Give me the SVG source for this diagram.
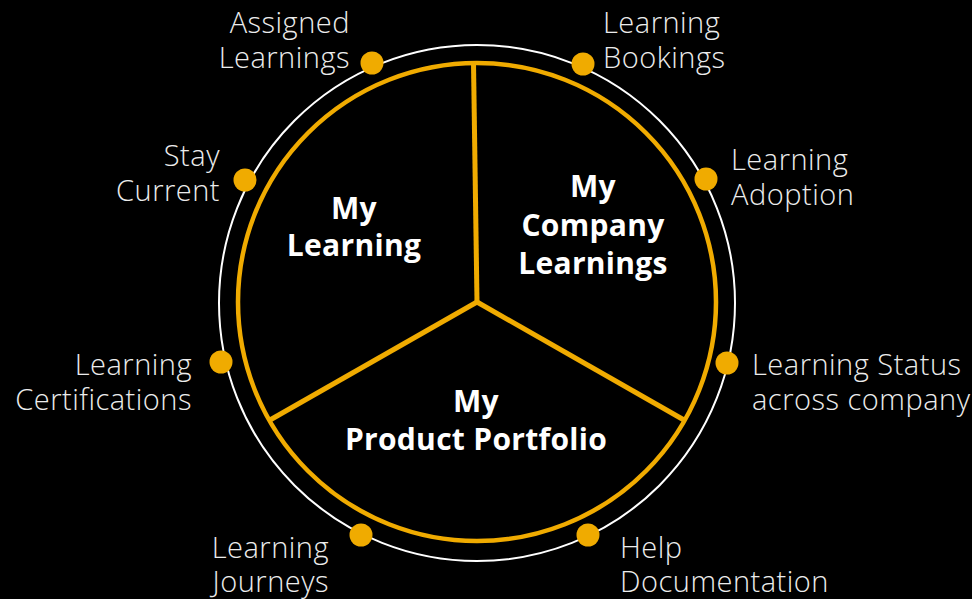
<svg xmlns="http://www.w3.org/2000/svg" width="972" height="599" viewBox="0 0 972 599">
<style>
.lbl{font-family:"Open Sans","Liberation Sans",sans-serif;font-weight:300;font-size:29px;letter-spacing:0.5px;fill:#ececec}
.ttl{font-family:"Open Sans","Liberation Sans",sans-serif;font-weight:700;font-size:30px;letter-spacing:0.3px;fill:#ffffff;text-anchor:middle}
.dot{fill:#f0ab00}
.end{text-anchor:end}
</style>
<rect x="0" y="0" width="972" height="599" fill="#000"/>
<g id="rings">
<circle cx="477" cy="303" r="258" fill="none" stroke="#fff" stroke-width="2"/>
<circle cx="477" cy="302" r="239" fill="none" stroke="#f0ab00" stroke-width="4.5"/>
</g>
<g id="connectors" stroke="#f0ab00" stroke-width="5" stroke-linecap="butt">
<line x1="477" y1="302" x2="473.5" y2="63"/>
<line x1="477" y1="302" x2="270" y2="420"/>
<line x1="477" y1="302" x2="684" y2="420"/>
</g>
<g id="my-learning">
<text class="ttl" x="354" y="219">My</text>
<text class="ttl" x="354" y="256">Learning</text>
</g>
<g id="my-company-learnings">
<text class="ttl" x="593" y="197">My</text>
<text class="ttl" x="593" y="236">Company</text>
<text class="ttl" x="593" y="274">Learnings</text>
</g>
<g id="my-product-portfolio">
<text class="ttl" x="476" y="412">My</text>
<text class="ttl" x="476" y="450">Product Portfolio</text>
</g>
<g id="assigned-learnings">
<circle class="dot" cx="372" cy="63" r="11.5"/>
<text class="lbl end" x="350" y="33">Assigned</text>
<text class="lbl end" x="350" y="68">Learnings</text>
</g>
<g id="learning-bookings">
<circle class="dot" cx="583" cy="64" r="11.5"/>
<text class="lbl" x="603" y="33">Learning</text>
<text class="lbl" x="603" y="68">Bookings</text>
</g>
<g id="learning-adoption">
<circle class="dot" cx="706" cy="179" r="11.5"/>
<text class="lbl" x="731" y="170">Learning</text>
<text class="lbl" x="731" y="205">Adoption</text>
</g>
<g id="stay-current">
<circle class="dot" cx="245" cy="180" r="11.5"/>
<text class="lbl end" x="220" y="166">Stay</text>
<text class="lbl end" x="220" y="201">Current</text>
</g>
<g id="learning-certifications">
<circle class="dot" cx="221" cy="362" r="11.5"/>
<text class="lbl end" x="192" y="375">Learning</text>
<text class="lbl end" x="192" y="410">Certifications</text>
</g>
<g id="learning-status">
<circle class="dot" cx="727" cy="363" r="11.5"/>
<text class="lbl" x="752" y="375">Learning Status</text>
<text class="lbl" x="752" y="410">across company</text>
</g>
<g id="learning-journeys">
<circle class="dot" cx="361" cy="535" r="11.5"/>
<text class="lbl end" x="329" y="558">Learning</text>
<text class="lbl end" x="329" y="592">Journeys</text>
</g>
<g id="help-documentation">
<circle class="dot" cx="588" cy="535" r="11.5"/>
<text class="lbl" x="620" y="558">Help</text>
<text class="lbl" x="620" y="592">Documentation</text>
</g>
</svg>
